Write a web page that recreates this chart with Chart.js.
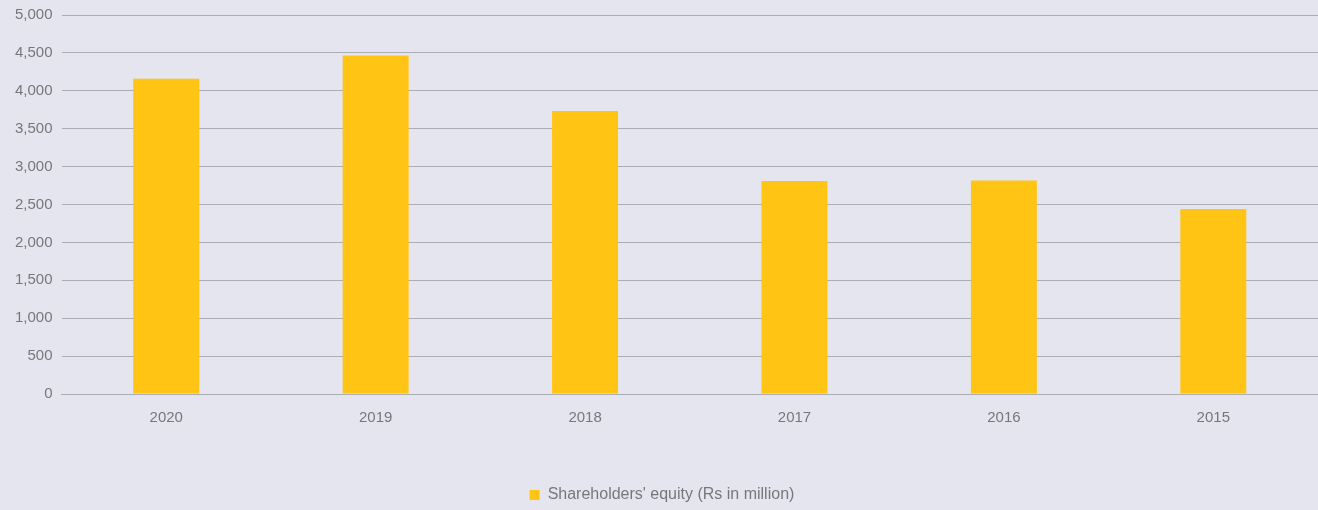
<!DOCTYPE html>
<html>
<head>
<meta charset="utf-8">
<script src="https://cdn.jsdelivr.net/npm/chart.js@4/dist/chart.umd.min.js"></script>
<style>
    html, body { margin: 0; padding: 0; background: #e5e5ef; overflow: hidden; }
    .chart { width: 1318px; height: 513px; margin-top: -3px; }
</style>
</head>
<body>
<div class="chart"><canvas id="equity"></canvas></div>
<script>
const years = ["2020", "2019", "2018", "2017", "2016", "2015"];
const equity = [4160, 4465, 3735, 2810, 2815, 2440];
const seriesLabel = "Shareholders' equity (Rs in million)";

const textColor = "#77777b";
const gridColor = "#acacb4";
const fontFamily = "'Liberation Sans', sans-serif";

new Chart("equity", {
    type: "bar",
    data: {
        labels: years,
        datasets: [{
            label: seriesLabel,
            data: equity,
            backgroundColor: "#ffc414",
            borderWidth: 0,
            barPercentage: 0.315,
            categoryPercentage: 1
        }]
    },
    options: {
        responsive: true,
        maintainAspectRatio: false,
        animation: false,
        layout: { padding: { top: 0, right: 0, left: 6, bottom: -3 } },
        plugins: {
            legend: {
                position: "bottom",
                labels: {
                    color: textColor,
                    font: { size: 16, family: fontFamily },
                    boxWidth: 10,
                    boxHeight: 10,
                    padding: 7
                }
            },
            tooltip: { enabled: false }
        },
        scales: {
            x: {
                grid: { display: false, drawTicks: false },
                border: { display: true, color: gridColor, width: 1 },
                ticks: {
                    color: textColor,
                    padding: 15,
                    font: { size: 15, family: fontFamily }
                },
                afterFit: (scale) => { scale.height = 86; }
            },
            y: {
                min: 0,
                max: 5000,
                grid: { color: gridColor, lineWidth: 1, drawTicks: false },
                border: { display: false },
                ticks: {
                    stepSize: 500,
                    color: textColor,
                    padding: 9,
                    font: { size: 15, family: fontFamily },
                    callback: (value) => value.toLocaleString("en-US")
                }
            }
        }
    }
});
</script>
</body>
</html>
